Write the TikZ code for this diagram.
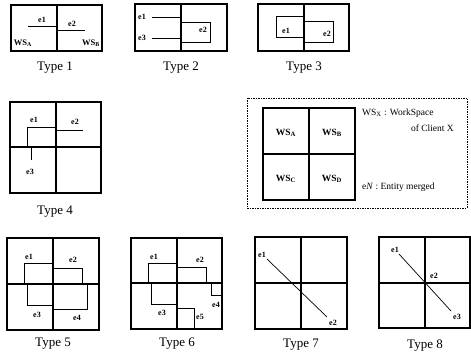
\documentclass[tikz,border=0pt]{standalone}
\usepackage{fontspec}
\setmainfont{Liberation Serif}
\begin{document}
\begin{tikzpicture}[x=1pt,y=-1pt,
  frame/.style={line width=1.1pt},
  ent/.style={line width=0.7pt},
  elbl/.style={font=\fontsize{8}{9}\selectfont\bfseries, inner sep=0.5pt},
  wslbl/.style={font=\fontsize{8.5}{10}\selectfont\bfseries, inner sep=0.5pt},
  lwslbl/.style={font=\fontsize{9.5}{11}\selectfont\bfseries, inner sep=0.5pt},
  typelbl/.style={font=\fontsize{13}{15}\selectfont, inner sep=0pt},
  legtxt/.style={font=\fontsize{9.5}{11}\selectfont, inner sep=0pt}]
\useasboundingbox (0,0) rectangle (471,358);

% ---------- Type 1
\draw[frame] (11,5) rectangle (102,51) (57,5) -- (57,51);
\draw[ent] (28,26) -- (57,26);
\draw[ent] (57,30) -- (85,30);
\node[elbl] (t1e1) at (42,20) {e1};
\node[elbl] (t1e2) at (72,24) {e2};
\node[wslbl] (t1wa) at (23,43) {WS\textsubscript{A}};
\node[wslbl] (t1wb) at (91,43) {WS\textsubscript{B}};
\node[typelbl] (ty1) at (55,68) {Type 1};

% ---------- Type 2
\draw[frame] (135,4) rectangle (227,51) (181,4) -- (181,51);
\draw[ent] (152,17) -- (181,17);
\draw[ent] (152,38) -- (181,38);
\draw[ent] (181,22) rectangle (210,42);
\node[elbl] (t2e1) at (142,17) {e1};
\node[elbl] (t2e3) at (142,38) {e3};
\node[elbl] (t2e2) at (203,30) {e2};
\node[typelbl] (ty2) at (181,68) {Type 2};

% ---------- Type 3
\draw[frame] (258,4) rectangle (349,51) (304,4) -- (304,51);
\draw[ent] (276,16) rectangle (304,37);
\draw[ent] (304,21) rectangle (333,42);
\node[elbl] (t3e1) at (286,31) {e1};
\node[elbl] (t3e2) at (327,34) {e2};
\node[typelbl] (ty3) at (304,68) {Type 3};

% ---------- Type 4
\draw[frame] (10,102) rectangle (101,193) (56,102) -- (56,193) (10,147) -- (101,147);
\draw[ent] (27,147) -- (27,127) -- (56,127);
\draw[ent] (56,130) -- (83,130);
\draw[ent] (31,147) -- (31,160);
\node[elbl] (t4e1) at (34,120) {e1};
\node[elbl] (t4e2) at (75,122) {e2};
\node[elbl] (t4e3) at (30,172) {e3};
\node[typelbl] (ty4) at (55,212) {Type 4};

% ---------- Legend
\draw[line width=0.6pt, dash pattern=on 1.5pt off 1pt] (247,98) rectangle (467,208);
\draw[frame] (263,108) rectangle (355,200) (309,108) -- (309,200) (263,154) -- (355,154);
\node[lwslbl] (lwa) at (286,133) {WS\textsubscript{A}};
\node[lwslbl] (lwb) at (332,133) {WS\textsubscript{B}};
\node[lwslbl] (lwc) at (286,179) {WS\textsubscript{C}};
\node[lwslbl] (lwd) at (332,179) {WS\textsubscript{D}};
\node[legtxt, anchor=west] (lg1) at (362,113) {WS\textsubscript{X} : WorkSpace};
\node[legtxt, anchor=east] (lg2) at (454,128) {of Client X};
\node[legtxt, anchor=west] (lg3) at (362,187) {e\textit{N} : Entity merged};

% ---------- Type 5
\draw[frame] (7,238) rectangle (99,330) (53,238) -- (53,330) (7,284) -- (99,284);
\draw[ent] (24,263) rectangle (53,284);
\draw[ent] (53,268) rectangle (82,284);
\draw[ent] (27,284) rectangle (53,305);
\draw[ent] (53,284) rectangle (87,309);
\node[elbl] (t5e1) at (29,257) {e1};
\node[elbl] (t5e2) at (73,260) {e2};
\node[elbl] (t5e3) at (37,315) {e3};
\node[elbl] (t5e4) at (77,318) {e4};
\node[typelbl] (ty5) at (53,344) {Type 5};

% ---------- Type 6
\draw[frame] (131,238) rectangle (222,329) (177,238) -- (177,329) (131,283) -- (222,283);
\draw[ent] (148,263) rectangle (177,283);
\draw[ent] (177,267) rectangle (206,283);
\draw[ent] (151,283) rectangle (177,304);
\draw[ent] (211,283) rectangle (222,295);
\draw[ent] (177,308) rectangle (194,329);
\node[elbl] (t6e1) at (154,257) {e1};
\node[elbl] (t6e2) at (200,260) {e2};
\node[elbl] (t6e3) at (162,313) {e3};
\node[elbl] (t6e4) at (216,305) {e4};
\node[elbl] (t6e5) at (200,317) {e5};
\node[typelbl] (ty6) at (177,344) {Type 6};

% ---------- Type 7
\draw[frame] (255,237) rectangle (347,329) (301,237) -- (301,329) (255,283) -- (347,283);
\node[elbl] (t7e1) at (262,255) {e1};
\node[elbl] (t7e2) at (333,323) {e2};
\coordinate (t7a) at (267,259);
\coordinate (t7b) at (327,317);
\draw[ent] (t7a) -- (t7b);
\node[typelbl] (ty7) at (301,345) {Type 7};

% ---------- Type 8
\draw[frame] (379,237) rectangle (470,328) (425,237) -- (425,328) (379,283) -- (470,283);
\node[elbl] (t8e1) at (395,250) {e1};
\node[elbl] (t8e2) at (434,276) {e2};
\node[elbl] (t8e3) at (457,317) {e3};
\coordinate (t8a) at (399,254);
\coordinate (t8b) at (451,311);
\draw[ent] (t8a) -- (t8b);
\draw[ent] (425,283) circle (1.6);
\node[typelbl] (ty8) at (425,346) {Type 8};
\end{tikzpicture}
\end{document}
